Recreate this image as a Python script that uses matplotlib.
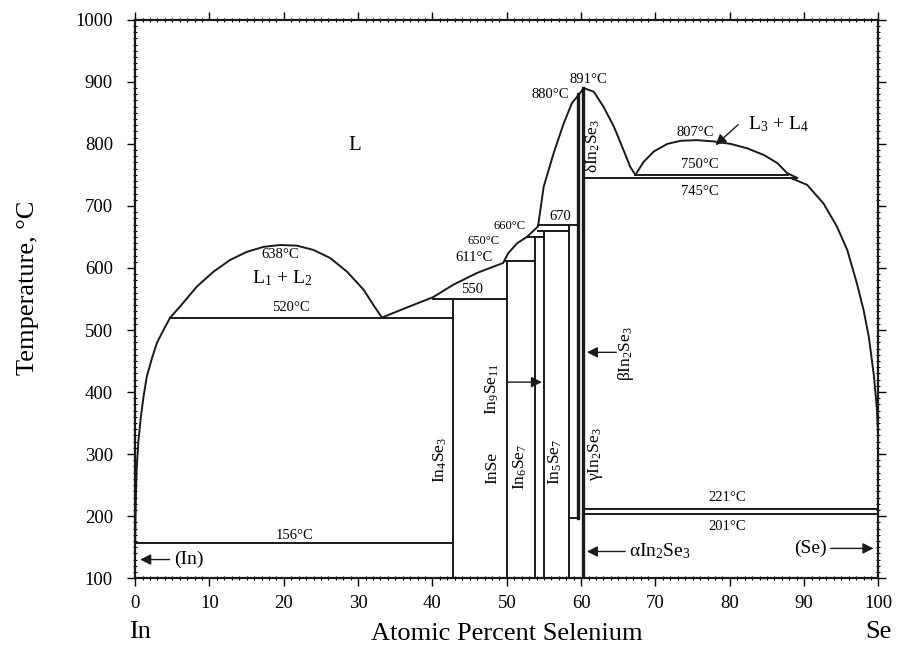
import matplotlib
matplotlib.use("Agg")
import matplotlib.pyplot as plt
from matplotlib.ticker import MultipleLocator

plt.rcParams['font.family'] = ['Liberation Serif', 'DejaVu Serif']
plt.rcParams['mathtext.fontset'] = 'custom'
plt.rcParams['mathtext.rm'] = 'Liberation Serif'
plt.rcParams['mathtext.it'] = 'Liberation Serif:italic'
plt.rcParams['mathtext.default'] = 'rm'

# ---------------- data ----------------
# liquidus, In side
liq_in_x = [0.0, 0.05, 0.13, 0.22, 0.45, 0.77, 1.12, 1.57, 2.25, 2.92, 3.81, 4.71]
liq_in_t = [156, 200, 247, 280, 323, 360, 392, 425, 454, 479, 500, 520]
# L1 + L2 miscibility dome
dome1_x = [4.71, 6.06, 8.30, 10.54, 12.79, 15.03, 17.27, 19.52, 21.76, 24.0,
           26.24, 28.5, 30.73, 32.07, 33.2]
dome1_t = [520, 538, 570, 594, 613, 626, 634, 637, 636, 629,
           616, 594, 565, 540, 520]
# liquidus from monotectic to the In2Se3 maximum
liq_mid_x = [33.2, 36.5, 40.1, 42.8, 46.0, 49.5, 50.2, 51.4, 52.7, 54.2,
             54.96, 56.3, 57.65, 58.77, 59.67, 60.34]
liq_mid_t = [520, 536, 553, 573, 592, 608, 624, 640, 650, 667,
             731, 785, 833, 866, 879, 890]
# liquidus from the maximum down to the L3+L4 monotectic
liq_r1_x = [60.34, 61.7, 63.0, 64.4, 65.7, 66.6, 67.3]
liq_r1_t = [890, 884, 860, 828, 790, 763, 750]
# L3 + L4 dome
dome2_x = [67.3, 68.4, 69.8, 71.6, 73.4, 75.6, 77.8, 80.1, 82.3, 84.6, 86.4, 87.7, 89.1]
dome2_t = [750, 771, 788, 800, 805, 806, 804, 800, 793, 782, 769, 753, 745]
# liquidus, Se side
liq_se_x = [88.2, 90.4, 92.6, 94.4, 95.8, 97.1, 98.0, 98.7, 99.4, 99.8, 100.0, 100.0]
liq_se_t = [745, 734, 704, 667, 629, 575, 532, 489, 425, 371, 317, 221]

# invariant horizontal lines: (x_start, x_end, temperature)
horiz_x0 = [0.0, 4.71, 40.1, 49.8, 52.7, 54.2, 54.2, 67.3, 60.3, 60.3, 60.3, 58.4]
horiz_x1 = [42.8, 42.8, 50.0, 53.8, 55.0, 58.4, 59.6, 87.8, 89.1, 100.0, 100.0, 59.6]
horiz_t = [156, 520, 550, 611, 650, 660, 670, 750, 745, 212, 203, 197]

# compound vertical lines: (composition, t_low, t_high)
vert_x = [42.8, 50.0, 53.8, 55.0, 58.4]
vert_t0 = [100, 100, 100, 100, 100]
vert_t1 = [550, 611, 650, 660, 670]
# In2Se3 phase boundaries (thick)
in2se3_x = [59.6, 60.3]
in2se3_t0 = [197, 100]
in2se3_t1 = [880, 890]

xticks = [0, 10, 20, 30, 40, 50, 60, 70, 80, 90, 100]
yticks = [100, 200, 300, 400, 500, 600, 700, 800, 900, 1000]

# ---------------- figure ----------------
fig = plt.figure(figsize=(9.01, 6.60), dpi=100)
ax = fig.add_axes([0.150, 0.124, 0.825, 0.846])
ax.set_xlim(0, 100)
ax.set_ylim(100, 1000)

lc = '#1a1a1a'
lw = 1.4
for xs, ts in [(liq_in_x, liq_in_t), (dome1_x, dome1_t), (liq_mid_x, liq_mid_t),
               (liq_r1_x, liq_r1_t), (dome2_x, dome2_t), (liq_se_x, liq_se_t)]:
    ax.plot(xs, ts, color=lc, lw=lw, solid_joinstyle='round', solid_capstyle='round')

for x0, x1, t in zip(horiz_x0, horiz_x1, horiz_t):
    ax.plot([x0, x1], [t, t], color=lc, lw=lw)
for x, t0, t1 in zip(vert_x, vert_t0, vert_t1):
    ax.plot([x, x], [t0, t1], color=lc, lw=lw)
for x, t0, t1 in zip(in2se3_x, in2se3_t0, in2se3_t1):
    ax.plot([x, x], [t0, t1], color=lc, lw=2.4)

# ---------------- annotations ----------------
small = 10.5
ax.text(29.6, 797, 'L', fontsize=15, ha='center', va='center')
ax.text(19.5, 622, '638°C', fontsize=small, ha='center', va='center')
ax.text(19.8, 584, r'L$_1$ + L$_2$', fontsize=14, ha='center', va='center')
ax.text(21.0, 525, '520°C', fontsize=small, ha='center', va='bottom')
ax.text(21.5, 159, '156°C', fontsize=small, ha='center', va='bottom')
ax.text(45.3, 554, '550', fontsize=small, ha='center', va='bottom')
ax.text(45.6, 617, '611°C', fontsize=small, ha='center', va='center')
ax.text(46.9, 644, '650°C', fontsize=9, ha='center', va='center')
ax.text(50.4, 668, '660°C', fontsize=9, ha='center', va='center')
ax.text(57.2, 683, '670', fontsize=small, ha='center', va='center')
ax.text(55.8, 879, '880°C', fontsize=small, ha='center', va='center')
ax.text(61.0, 904, '891°C', fontsize=small, ha='center', va='center')
ax.text(75.4, 819, '807°C', fontsize=small, ha='center', va='center')
ax.text(76.0, 766, '750°C', fontsize=small, ha='center', va='center')
ax.text(76.0, 723, '745°C', fontsize=small, ha='center', va='center')
ax.text(79.7, 230, '221°C', fontsize=small, ha='center', va='center')
ax.text(79.7, 183, '201°C', fontsize=small, ha='center', va='center')

ax.text(86.6, 832, r'L$_3$ + L$_4$', fontsize=14, ha='center', va='center')
ax.annotate('', xy=(77.8, 795), xytext=(81.4, 834),
            arrowprops=dict(arrowstyle='-|>', color=lc, lw=1.0, mutation_scale=16))

rot = dict(rotation=90, ha='center', va='center', fontsize=12.5)
ax.text(61.6, 797, r'$\delta$In$_2$Se$_3$', **rot)
ax.text(66.0, 462, r'$\beta$In$_2$Se$_3$', **rot)
ax.text(61.9, 300, r'$\gamma$In$_2$Se$_3$', **rot)
ax.text(41.0, 290, r'In$_4$Se$_3$', **rot)
ax.text(48.1, 277, 'InSe', **rot)
ax.text(51.8, 280, r'In$_6$Se$_7$', **rot)
ax.text(56.5, 288, r'In$_5$Se$_7$', **rot)
ax.text(48.0, 405, r'In$_9$Se$_{11}$', **rot)

arr = dict(arrowstyle='-|>', color=lc, lw=1.0, mutation_scale=16)
ax.annotate('', xy=(55.1, 416), xytext=(49.8, 416), arrowprops=arr)
ax.annotate('', xy=(60.4, 464), xytext=(65.1, 464), arrowprops=arr)
ax.annotate('', xy=(0.3, 130), xytext=(5.0, 130), arrowprops=arr)
ax.text(5.2, 130, '(In)', fontsize=14, ha='left', va='center')
ax.annotate('', xy=(60.4, 143), xytext=(66.3, 143), arrowprops=arr)
ax.text(66.4, 143, r'$\alpha$In$_2$Se$_3$', fontsize=14, ha='left', va='center')
ax.annotate('', xy=(99.7, 148), xytext=(93.2, 148), arrowprops=arr)
ax.text(93.0, 148, '(Se)', fontsize=14, ha='right', va='center')

# ---------------- axes styling ----------------
ax.set_xticks(xticks)
ax.set_yticks(yticks)
ax.xaxis.set_minor_locator(MultipleLocator(1))
ax.yaxis.set_minor_locator(MultipleLocator(10))
ax.tick_params(which='major', direction='out', length=6, width=1.0,
               top=True, right=True, labelsize=13.5)
ax.tick_params(axis='y', which='major', pad=10)
ax.tick_params(axis='x', which='major', pad=6)
ax.tick_params(which='minor', direction='inout', length=3.5, width=0.8,
               top=True, right=True)
for s in ax.spines.values():
    s.set_linewidth(1.6)
    s.set_color(lc)

ax.set_ylabel('Temperature, °C', fontsize=19)
ax.yaxis.set_label_coords(-0.130, 0.52)
fig.text(0.563, 0.022, 'Atomic Percent Selenium', fontsize=19, ha='center', va='bottom')
fig.text(0.155, 0.025, 'In', fontsize=19, ha='center', va='bottom')
fig.text(0.975, 0.025, 'Se', fontsize=19, ha='center', va='bottom')

fig.savefig('out.png', dpi=100)
